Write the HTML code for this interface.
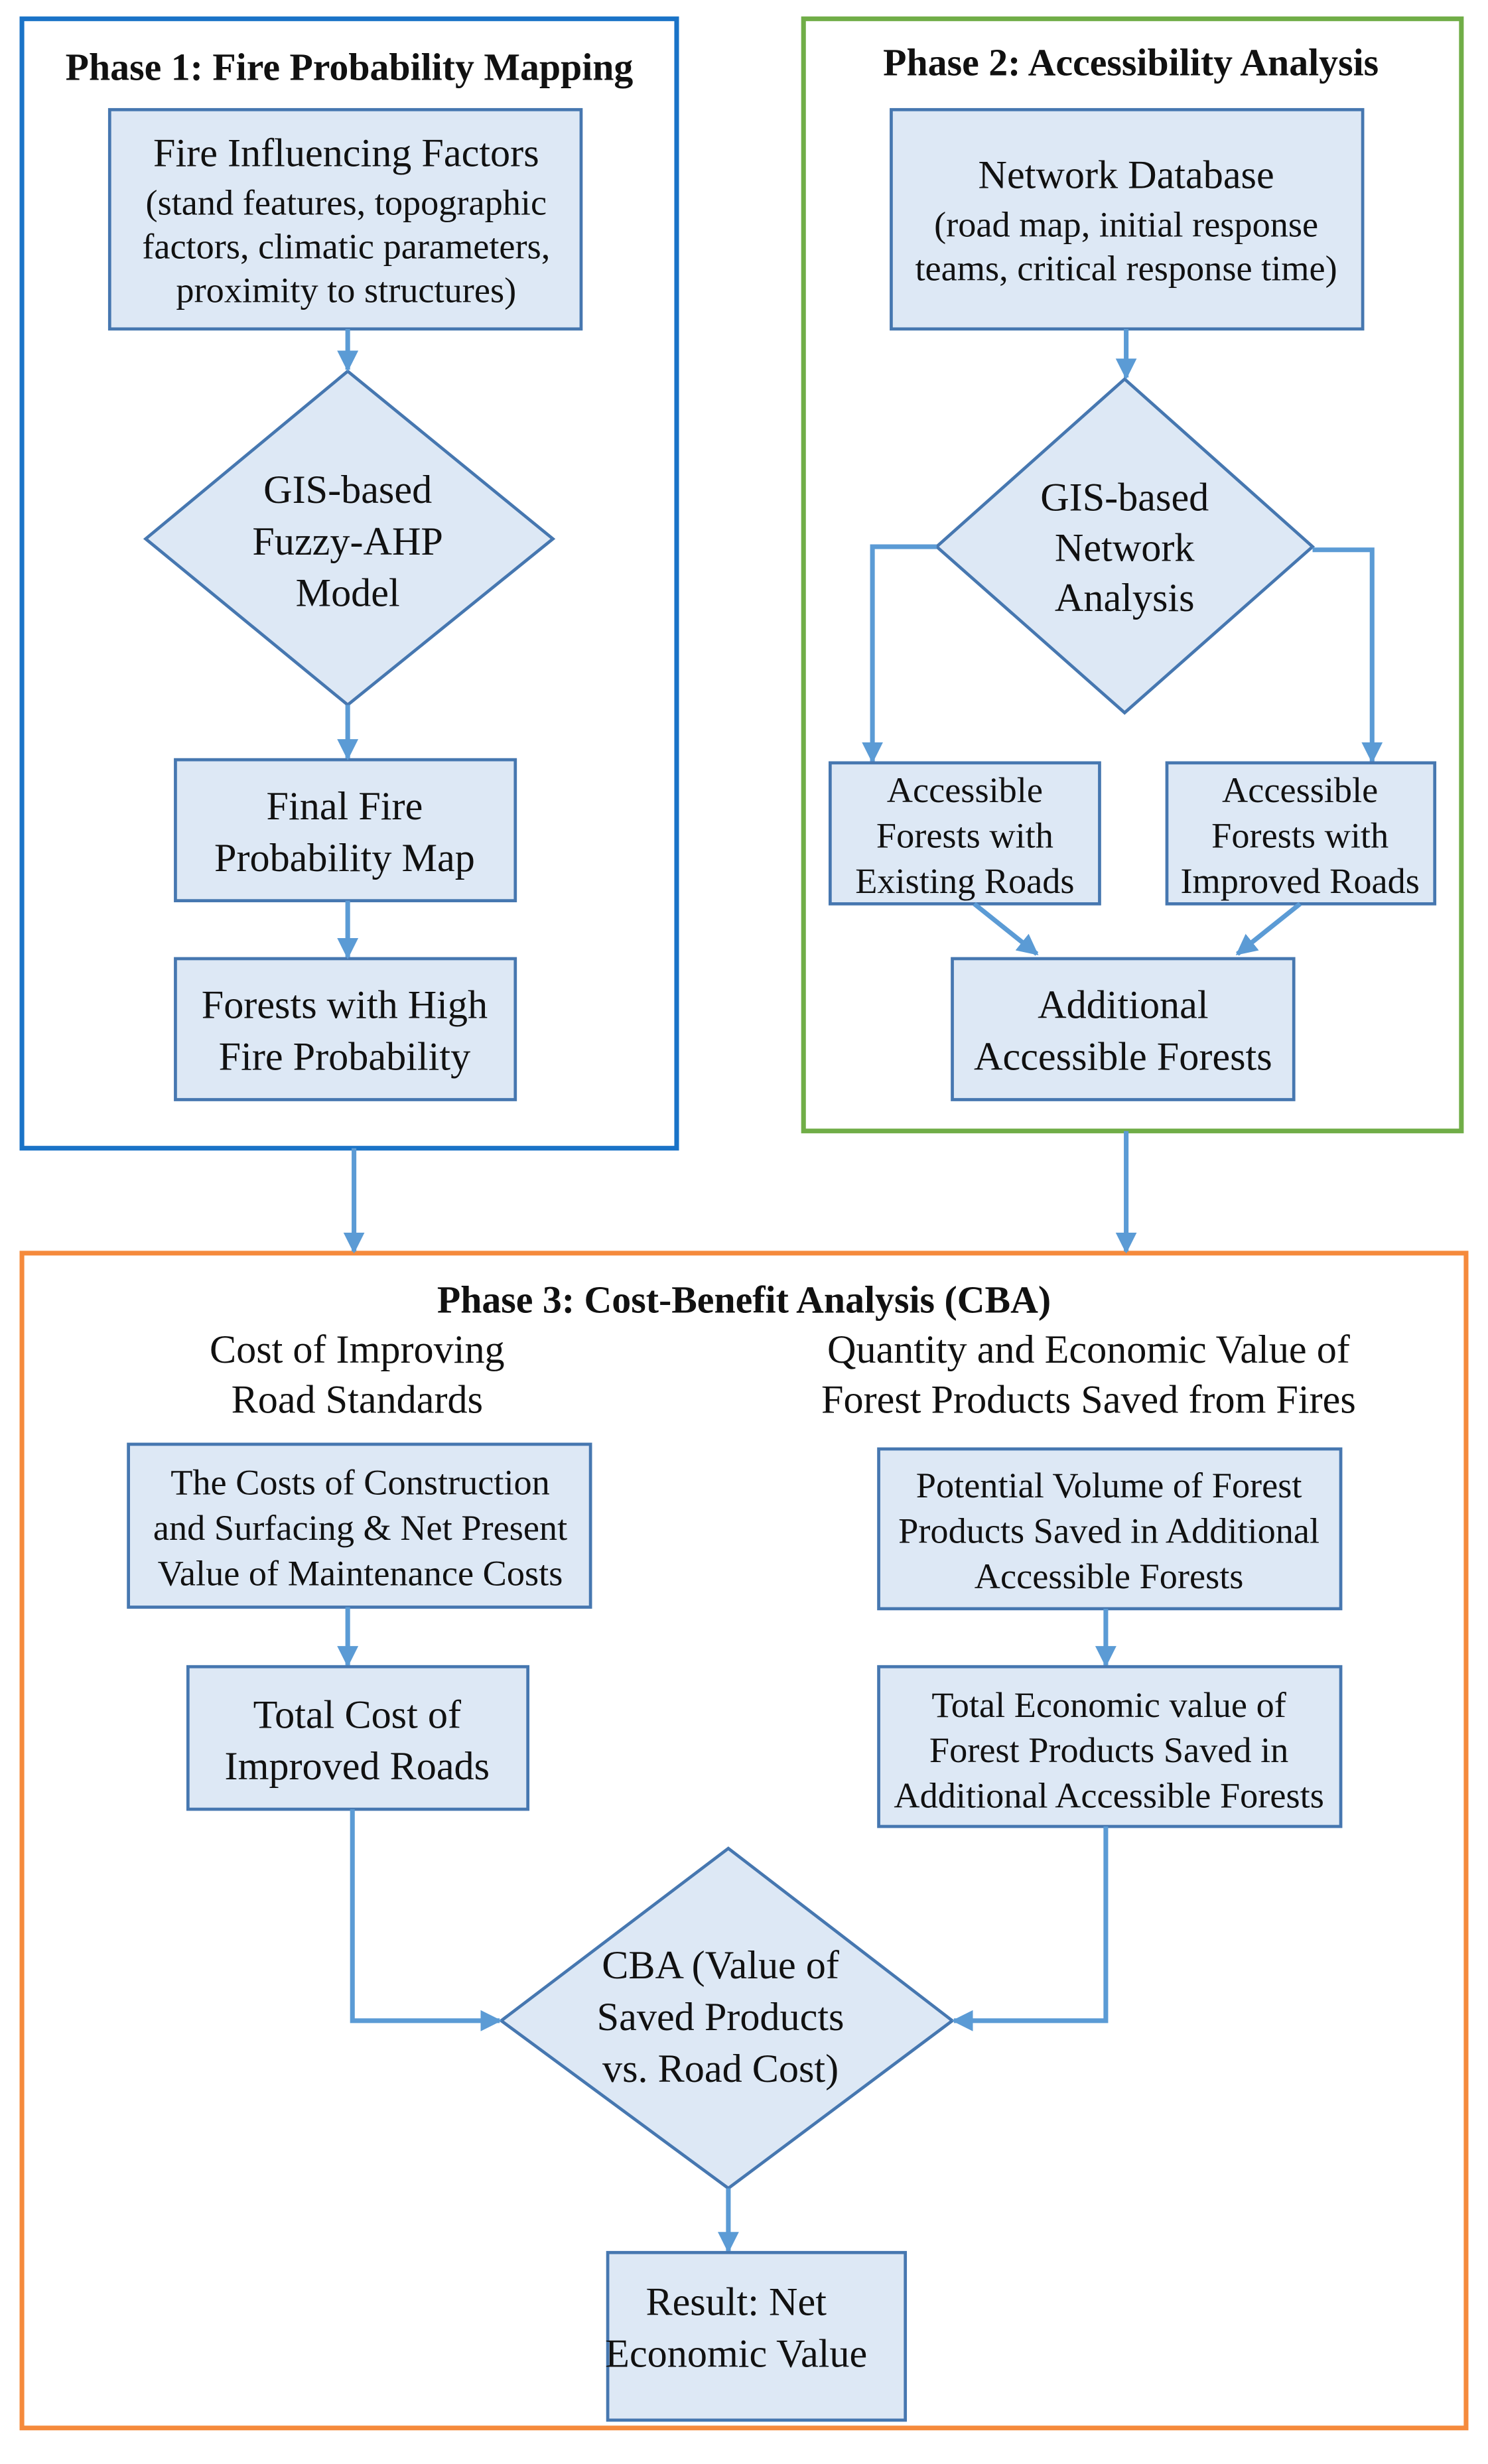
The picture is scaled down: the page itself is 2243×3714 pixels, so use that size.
<!DOCTYPE html>
<html><head><meta charset="utf-8"><style>
html,body{margin:0;padding:0;background:#fff;}
svg{display:block;}
text{font-family:"Liberation Serif",serif;fill:#111;text-anchor:middle;}
.b{fill:#dde8f5;stroke:#4677b0;stroke-width:2;}
.c{stroke:#5b9bd5;stroke-width:3;fill:none;}
.t{font-size:25.5px;}
.s{font-size:23px;}
.h{font-size:24.5px;font-weight:bold;}
</style></head><body>
<svg width="2243" height="3714" viewBox="0 0 950 1573" preserveAspectRatio="none" xmlns="http://www.w3.org/2000/svg">
<defs><marker id="a" viewBox="0 0 10 10" refX="9" refY="5" markerWidth="4.5" markerHeight="4.5" orient="auto"><path d="M0,0L10,5L0,10z" fill="#5b9bd5"/></marker></defs>
<rect x="14" y="12" width="418" height="721" fill="none" stroke="#1a73c7" stroke-width="3"/>
<rect x="513" y="12" width="420" height="710" fill="none" stroke="#70ad47" stroke-width="3"/>
<rect x="14" y="800" width="922" height="750" fill="none" stroke="#f58a3c" stroke-width="3"/>
<text x="223" y="51" class="h">Phase 1: Fire Probability Mapping</text>
<text x="722" y="48" class="h">Phase 2: Accessibility Analysis</text>
<text x="475" y="838" class="h">Phase 3: Cost-Benefit Analysis (CBA)</text>
<!-- phase1 -->
<rect class="b" x="70" y="70" width="301" height="140"/>
<text class="t" x="221" y="106">Fire Influencing Factors</text>
<text class="s" x="221" y="137">(stand features, topographic</text>
<text class="s" x="221" y="165">factors, climatic parameters,</text>
<text class="s" x="221" y="193">proximity to structures)</text>
<polygon class="b" points="222,237 353,344 222,450 93,344"/>
<text class="t" x="222" y="321">GIS-based</text>
<text class="t" x="222" y="354">Fuzzy-AHP</text>
<text class="t" x="222" y="387">Model</text>
<rect class="b" x="112" y="485" width="217" height="90"/>
<text class="t" x="220" y="523">Final Fire</text>
<text class="t" x="220" y="556">Probability Map</text>
<rect class="b" x="112" y="612" width="217" height="90"/>
<text class="t" x="220" y="650">Forests with High</text>
<text class="t" x="220" y="683">Fire Probability</text>
<line class="c" x1="222" y1="210" x2="222" y2="236" marker-end="url(#a)"/>
<line class="c" x1="222" y1="450" x2="222" y2="484" marker-end="url(#a)"/>
<line class="c" x1="222" y1="575" x2="222" y2="611" marker-end="url(#a)"/>
<!-- phase2 -->
<rect class="b" x="569" y="70" width="301" height="140"/>
<text class="t" x="719" y="120">Network Database</text>
<text class="s" x="719" y="151">(road map, initial response</text>
<text class="s" x="719" y="179">teams, critical response time)</text>
<polygon class="b" points="718,242 838,349 718,455 598,349"/>
<text class="t" x="718" y="326">GIS-based</text>
<text class="t" x="718" y="358">Network</text>
<text class="t" x="718" y="390">Analysis</text>
<line class="c" x1="719" y1="210" x2="719" y2="241" marker-end="url(#a)"/>
<path class="c" d="M598,349H557V486" marker-end="url(#a)"/>
<path class="c" d="M838,351H876V486" marker-end="url(#a)"/>
<rect class="b" x="530" y="487" width="172" height="90"/>
<text class="s" x="616" y="512">Accessible</text>
<text class="s" x="616" y="541">Forests with</text>
<text class="s" x="616" y="570">Existing Roads</text>
<rect class="b" x="745" y="487" width="171" height="90"/>
<text class="s" x="830" y="512">Accessible</text>
<text class="s" x="830" y="541">Forests with</text>
<text class="s" x="830" y="570">Improved Roads</text>
<line class="c" x1="622" y1="577" x2="662" y2="609" marker-end="url(#a)"/>
<line class="c" x1="830" y1="577" x2="790" y2="609" marker-end="url(#a)"/>
<rect class="b" x="608" y="612" width="218" height="90"/>
<text class="t" x="717" y="650">Additional</text>
<text class="t" x="717" y="683">Accessible Forests</text>
<!-- between -->
<line class="c" x1="226" y1="733" x2="226" y2="799" marker-end="url(#a)"/>
<line class="c" x1="719" y1="722" x2="719" y2="799" marker-end="url(#a)"/>
<!-- phase3 -->
<text class="t" x="228" y="870">Cost of Improving</text>
<text class="t" x="228" y="902">Road Standards</text>
<text class="t" x="695" y="870">Quantity and Economic Value of</text>
<text class="t" x="695" y="902">Forest Products Saved from Fires</text>
<rect class="b" x="82" y="922" width="295" height="104"/>
<text class="s" x="230" y="954">The Costs of Construction</text>
<text class="s" x="230" y="983">and Surfacing &amp; Net Present</text>
<text class="s" x="230" y="1012">Value of Maintenance Costs</text>
<rect class="b" x="561" y="925" width="295" height="102"/>
<text class="s" x="708" y="956">Potential Volume of Forest</text>
<text class="s" x="708" y="985">Products Saved in Additional</text>
<text class="s" x="708" y="1014">Accessible Forests</text>
<line class="c" x1="222" y1="1026" x2="222" y2="1063" marker-end="url(#a)"/>
<line class="c" x1="706" y1="1027" x2="706" y2="1063" marker-end="url(#a)"/>
<rect class="b" x="120" y="1064" width="217" height="91"/>
<text class="t" x="228" y="1103">Total Cost of</text>
<text class="t" x="228" y="1136">Improved Roads</text>
<rect class="b" x="561" y="1064" width="295" height="102"/>
<text class="s" x="708" y="1096">Total Economic value of</text>
<text class="s" x="708" y="1125">Forest Products Saved in</text>
<text class="s" x="708" y="1154">Additional Accessible Forests</text>
<polygon class="b" points="465,1180 608,1290 465,1397 320,1290"/>
<text class="t" x="460" y="1263">CBA (Value of</text>
<text class="t" x="460" y="1296">Saved Products</text>
<text class="t" x="460" y="1329">vs. Road Cost)</text>
<path class="c" d="M225,1155V1290H319" marker-end="url(#a)"/>
<path class="c" d="M706,1166V1290H609" marker-end="url(#a)"/>
<line class="c" x1="465" y1="1397" x2="465" y2="1437" marker-end="url(#a)"/>
<rect class="b" x="388" y="1438" width="190" height="107"/>
<text class="t" x="470" y="1478">Result: Net</text>
<text class="t" x="470" y="1511">Economic Value</text>
</svg>
</body></html>
